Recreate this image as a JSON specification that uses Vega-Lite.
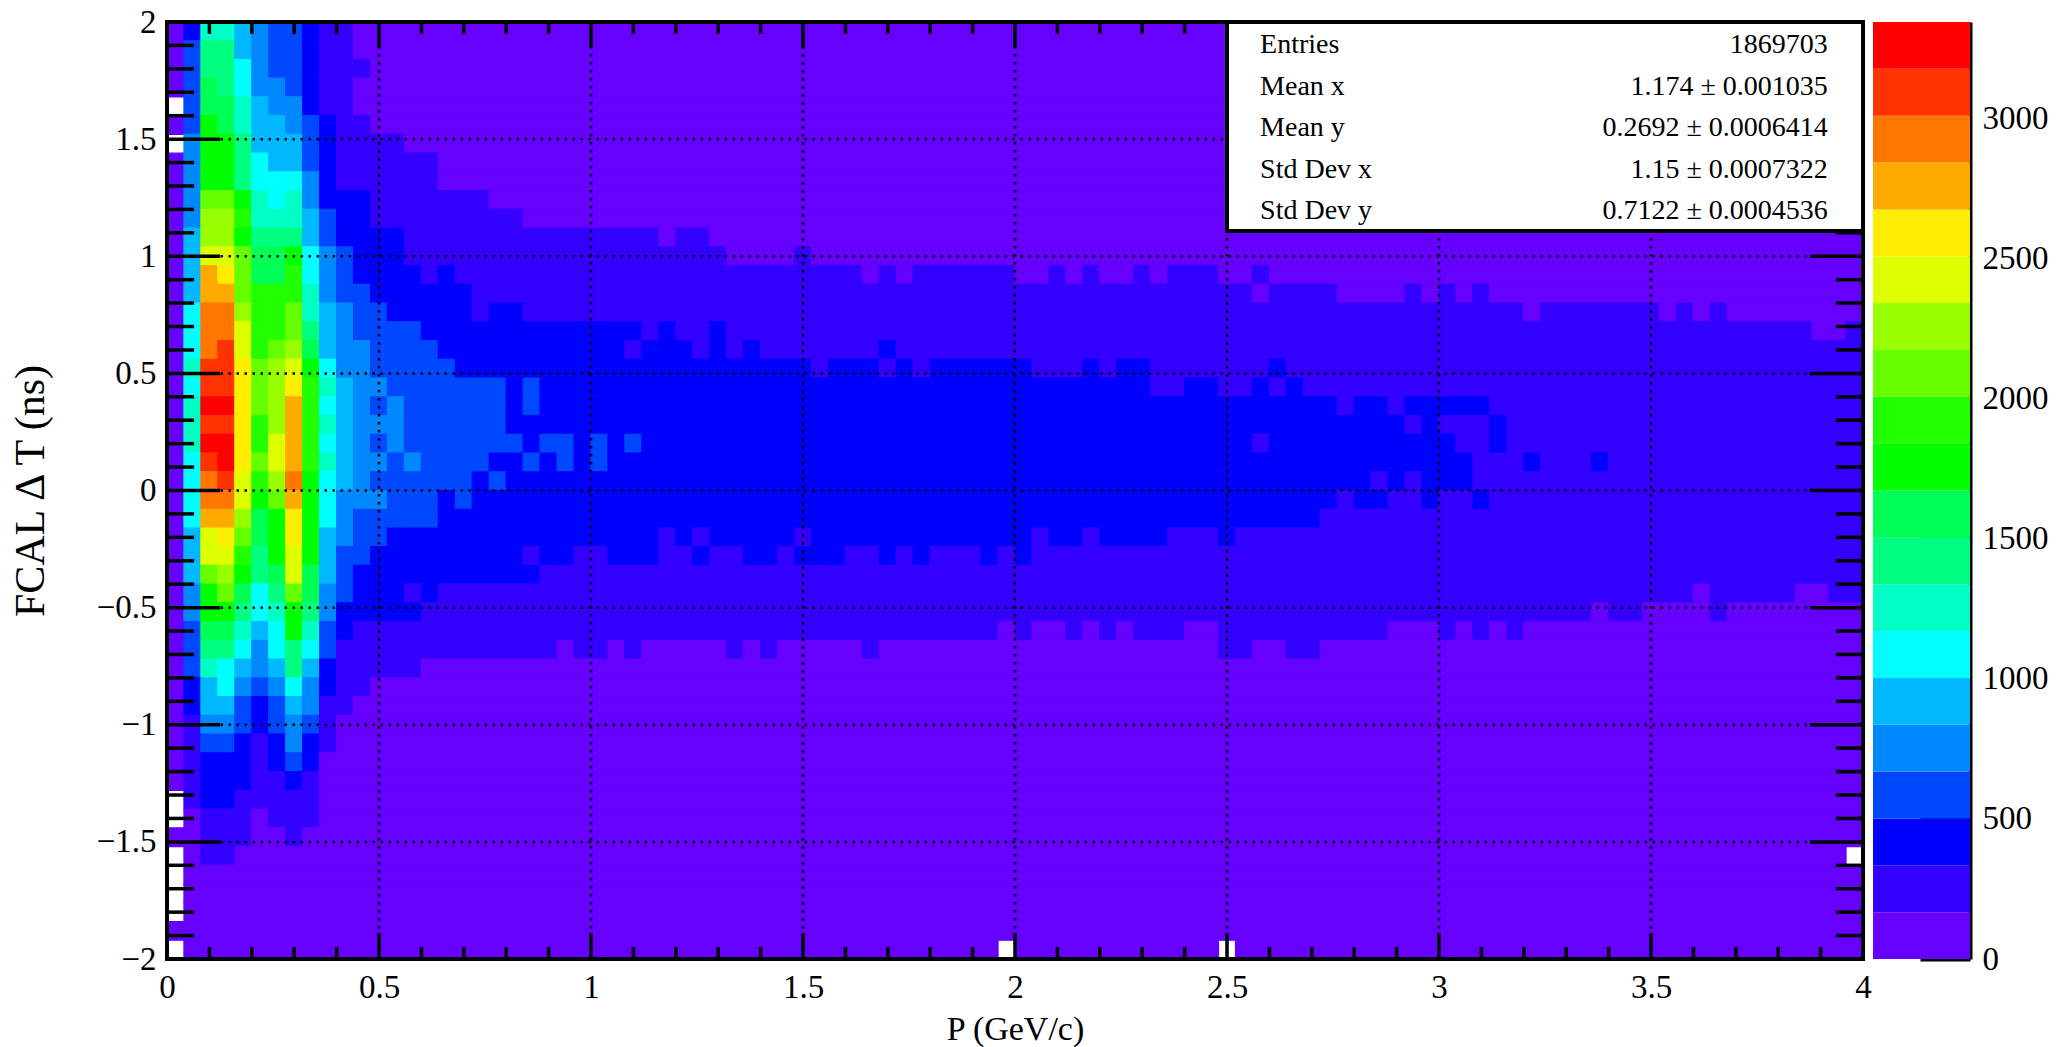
{"$schema":"https://vega.github.io/schema/vega-lite/v6.json","background":"white","padding":{"left":9,"top":6,"right":2,"bottom":2},"spacing":1,"config":{"view":{"stroke":null},"font":"Liberation Serif"},
"datasets":{
"xMinor":[{"v":0.1},{"v":0.2},{"v":0.3},{"v":0.4},{"v":0.6},{"v":0.7},{"v":0.8},{"v":0.9},{"v":1.1},{"v":1.2},{"v":1.3},{"v":1.4},{"v":1.6},{"v":1.7},{"v":1.8},{"v":1.9},{"v":2.1},{"v":2.2},{"v":2.3},{"v":2.4},{"v":2.6},{"v":2.7},{"v":2.8},{"v":2.9},{"v":3.1},{"v":3.2},{"v":3.3},{"v":3.4},{"v":3.6},{"v":3.7},{"v":3.8},{"v":3.9}],
"xMajor":[{"v":0.5},{"v":1},{"v":1.5},{"v":2},{"v":2.5},{"v":3},{"v":3.5}],
"yMinor":[{"v":-1.9},{"v":-1.8},{"v":-1.7},{"v":-1.6},{"v":-1.4},{"v":-1.3},{"v":-1.2},{"v":-1.1},{"v":-0.9},{"v":-0.8},{"v":-0.7},{"v":-0.6},{"v":-0.4},{"v":-0.3},{"v":-0.2},{"v":-0.1},{"v":0.1},{"v":0.2},{"v":0.3},{"v":0.4},{"v":0.6},{"v":0.7},{"v":0.8},{"v":0.9},{"v":1.1},{"v":1.2},{"v":1.3},{"v":1.4},{"v":1.6},{"v":1.7},{"v":1.8},{"v":1.9}],
"yMajor":[{"v":-1.5},{"v":-1},{"v":-0.5},{"v":0},{"v":0.5},{"v":1},{"v":1.5}],
"stats":[{"stat":"Entries","value":"1869703"},{"stat":"Mean x","value":"1.174 ± 0.001035"},{"stat":"Mean y","value":"0.2692 ± 0.0006414"},{"stat":"Std Dev x","value":"1.15 ± 0.0007322"},{"stat":"Std Dev y","value":"0.7122 ± 0.0004536"}]
},
"hconcat":[{"width":1696,"height":937,"resolve":{"scale":{"y":"independent"}},"layer":[
{"layer":[
{"data":{"values":[
{"x":0,"x2":0.04,"y":1.96,"n":80},{"x":0.04,"x2":0.08,"y":1.96,"n":420},{"x":0.08,"x2":0.16,"y":1.96,"n":1250},{"x":0.16,"x2":0.2,"y":1.96,"n":920},{"x":0.2,"x2":0.24,"y":1.96,"n":750},{"x":0.24,"x2":0.32,"y":1.96,"n":590},{"x":0.32,"x2":0.36,"y":1.96,"n":420},{"x":0.36,"x2":0.44,"y":1.96,"n":250},{"x":0.44,"x2":4,"y":1.96,"n":80},
{"x":0,"x2":0.04,"y":1.88,"n":80},{"x":0.04,"x2":0.08,"y":1.88,"n":590},{"x":0.08,"x2":0.16,"y":1.88,"n":1420},{"x":0.16,"x2":0.2,"y":1.88,"n":920},{"x":0.2,"x2":0.24,"y":1.88,"n":750},{"x":0.24,"x2":0.32,"y":1.88,"n":590},{"x":0.32,"x2":0.36,"y":1.88,"n":420},{"x":0.36,"x2":0.44,"y":1.88,"n":250},{"x":0.44,"x2":4,"y":1.88,"n":80},
{"x":0,"x2":0.04,"y":1.8,"n":80},{"x":0.04,"x2":0.08,"y":1.8,"n":590},{"x":0.08,"x2":0.16,"y":1.8,"n":1420},{"x":0.16,"x2":0.2,"y":1.8,"n":1090},{"x":0.2,"x2":0.24,"y":1.8,"n":750},{"x":0.24,"x2":0.32,"y":1.8,"n":590},{"x":0.32,"x2":0.36,"y":1.8,"n":420},{"x":0.36,"x2":0.48,"y":1.8,"n":250},{"x":0.48,"x2":4,"y":1.8,"n":80},
{"x":0,"x2":0.04,"y":1.72,"n":80},{"x":0.04,"x2":0.08,"y":1.72,"n":590},{"x":0.08,"x2":0.12,"y":1.72,"n":1590},{"x":0.12,"x2":0.16,"y":1.72,"n":1420},{"x":0.16,"x2":0.2,"y":1.72,"n":1090},{"x":0.2,"x2":0.28,"y":1.72,"n":750},{"x":0.28,"x2":0.32,"y":1.72,"n":590},{"x":0.32,"x2":0.36,"y":1.72,"n":420},{"x":0.36,"x2":0.44,"y":1.72,"n":250},{"x":0.44,"x2":4,"y":1.72,"n":80},
{"x":0.04,"x2":0.08,"y":1.64,"n":590},{"x":0.08,"x2":0.16,"y":1.64,"n":1590},{"x":0.16,"x2":0.2,"y":1.64,"n":1250},{"x":0.2,"x2":0.24,"y":1.64,"n":920},{"x":0.24,"x2":0.32,"y":1.64,"n":750},{"x":0.32,"x2":0.36,"y":1.64,"n":420},{"x":0.36,"x2":0.44,"y":1.64,"n":250},{"x":0.44,"x2":4,"y":1.64,"n":80},
{"x":0,"x2":0.04,"y":1.56,"n":80},{"x":0.04,"x2":0.08,"y":1.56,"n":590},{"x":0.08,"x2":0.12,"y":1.56,"n":1760},{"x":0.12,"x2":0.16,"y":1.56,"n":1590},{"x":0.16,"x2":0.2,"y":1.56,"n":1250},{"x":0.2,"x2":0.28,"y":1.56,"n":920},{"x":0.28,"x2":0.32,"y":1.56,"n":750},{"x":0.32,"x2":0.36,"y":1.56,"n":590},{"x":0.36,"x2":0.4,"y":1.56,"n":420},{"x":0.4,"x2":0.48,"y":1.56,"n":250},{"x":0.48,"x2":4,"y":1.56,"n":80},
{"x":0.04,"x2":0.08,"y":1.48,"n":750},{"x":0.08,"x2":0.16,"y":1.48,"n":1760},{"x":0.16,"x2":0.2,"y":1.48,"n":1420},{"x":0.2,"x2":0.32,"y":1.48,"n":920},{"x":0.32,"x2":0.36,"y":1.48,"n":590},{"x":0.36,"x2":0.4,"y":1.48,"n":420},{"x":0.4,"x2":0.56,"y":1.48,"n":250},{"x":0.56,"x2":4,"y":1.48,"n":80},
{"x":0,"x2":0.04,"y":1.4,"n":80},{"x":0.04,"x2":0.08,"y":1.4,"n":750},{"x":0.08,"x2":0.16,"y":1.4,"n":1760},{"x":0.16,"x2":0.2,"y":1.4,"n":1420},{"x":0.2,"x2":0.24,"y":1.4,"n":1090},{"x":0.24,"x2":0.32,"y":1.4,"n":920},{"x":0.32,"x2":0.36,"y":1.4,"n":590},{"x":0.36,"x2":0.4,"y":1.4,"n":420},{"x":0.4,"x2":0.64,"y":1.4,"n":250},{"x":0.64,"x2":4,"y":1.4,"n":80},
{"x":0,"x2":0.04,"y":1.32,"n":80},{"x":0.04,"x2":0.08,"y":1.32,"n":750},{"x":0.08,"x2":0.16,"y":1.32,"n":1760},{"x":0.16,"x2":0.2,"y":1.32,"n":1420},{"x":0.2,"x2":0.32,"y":1.32,"n":1090},{"x":0.32,"x2":0.36,"y":1.32,"n":750},{"x":0.36,"x2":0.4,"y":1.32,"n":420},{"x":0.4,"x2":0.64,"y":1.32,"n":250},{"x":0.64,"x2":4,"y":1.32,"n":80},
{"x":0,"x2":0.04,"y":1.24,"n":80},{"x":0.04,"x2":0.08,"y":1.24,"n":750},{"x":0.08,"x2":0.16,"y":1.24,"n":2090},{"x":0.16,"x2":0.2,"y":1.24,"n":1760},{"x":0.2,"x2":0.24,"y":1.24,"n":1250},{"x":0.24,"x2":0.28,"y":1.24,"n":1090},{"x":0.28,"x2":0.32,"y":1.24,"n":1250},{"x":0.32,"x2":0.36,"y":1.24,"n":750},{"x":0.36,"x2":0.48,"y":1.24,"n":420},{"x":0.48,"x2":0.76,"y":1.24,"n":250},{"x":0.76,"x2":4,"y":1.24,"n":80},
{"x":0,"x2":0.04,"y":1.16,"n":80},{"x":0.04,"x2":0.08,"y":1.16,"n":750},{"x":0.08,"x2":0.16,"y":1.16,"n":2260},{"x":0.16,"x2":0.2,"y":1.16,"n":1920},{"x":0.2,"x2":0.32,"y":1.16,"n":1250},{"x":0.32,"x2":0.36,"y":1.16,"n":920},{"x":0.36,"x2":0.4,"y":1.16,"n":590},{"x":0.4,"x2":0.48,"y":1.16,"n":420},{"x":0.48,"x2":0.84,"y":1.16,"n":250},{"x":0.84,"x2":4,"y":1.16,"n":80},
{"x":0,"x2":0.04,"y":1.08,"n":80},{"x":0.04,"x2":0.08,"y":1.08,"n":920},{"x":0.08,"x2":0.16,"y":1.08,"n":2260},{"x":0.16,"x2":0.2,"y":1.08,"n":1760},{"x":0.2,"x2":0.32,"y":1.08,"n":1420},{"x":0.32,"x2":0.36,"y":1.08,"n":920},{"x":0.36,"x2":0.4,"y":1.08,"n":590},{"x":0.4,"x2":0.56,"y":1.08,"n":420},{"x":0.56,"x2":1.16,"y":1.08,"n":250},{"x":1.16,"x2":1.2,"y":1.08,"n":80},{"x":1.2,"x2":1.28,"y":1.08,"n":250},{"x":1.28,"x2":4,"y":1.08,"n":80},
{"x":0,"x2":0.04,"y":1,"n":80},{"x":0.04,"x2":0.08,"y":1,"n":920},{"x":0.08,"x2":0.16,"y":1,"n":2430},{"x":0.16,"x2":0.2,"y":1,"n":2090},{"x":0.2,"x2":0.28,"y":1,"n":1590},{"x":0.28,"x2":0.32,"y":1,"n":1760},{"x":0.32,"x2":0.36,"y":1,"n":1090},{"x":0.36,"x2":0.4,"y":1,"n":750},{"x":0.4,"x2":0.44,"y":1,"n":590},{"x":0.44,"x2":0.56,"y":1,"n":420},{"x":0.56,"x2":1.32,"y":1,"n":250},{"x":1.32,"x2":1.48,"y":1,"n":80},{"x":1.48,"x2":1.52,"y":1,"n":250},{"x":1.52,"x2":4,"y":1,"n":80},
{"x":0,"x2":0.04,"y":0.92,"n":80},{"x":0.04,"x2":0.08,"y":0.92,"n":920},{"x":0.08,"x2":0.12,"y":0.92,"n":2760},{"x":0.12,"x2":0.16,"y":0.92,"n":2590},{"x":0.16,"x2":0.2,"y":0.92,"n":2090},{"x":0.2,"x2":0.28,"y":0.92,"n":1590},{"x":0.28,"x2":0.32,"y":0.92,"n":1920},{"x":0.32,"x2":0.36,"y":0.92,"n":1090},{"x":0.36,"x2":0.4,"y":0.92,"n":750},{"x":0.4,"x2":0.44,"y":0.92,"n":590},{"x":0.44,"x2":0.6,"y":0.92,"n":420},{"x":0.6,"x2":0.64,"y":0.92,"n":250},{"x":0.64,"x2":0.68,"y":0.92,"n":420},{"x":0.68,"x2":1.64,"y":0.92,"n":250},{"x":1.64,"x2":1.68,"y":0.92,"n":80},{"x":1.68,"x2":1.72,"y":0.92,"n":250},{"x":1.72,"x2":1.76,"y":0.92,"n":80},{"x":1.76,"x2":2,"y":0.92,"n":250},{"x":2,"x2":2.08,"y":0.92,"n":80},{"x":2.08,"x2":2.12,"y":0.92,"n":250},{"x":2.12,"x2":2.16,"y":0.92,"n":80},{"x":2.16,"x2":2.2,"y":0.92,"n":250},{"x":2.2,"x2":2.28,"y":0.92,"n":80},{"x":2.28,"x2":2.32,"y":0.92,"n":250},{"x":2.32,"x2":2.36,"y":0.92,"n":80},{"x":2.36,"x2":2.48,"y":0.92,"n":250},{"x":2.48,"x2":2.56,"y":0.92,"n":80},{"x":2.56,"x2":2.6,"y":0.92,"n":250},{"x":2.6,"x2":4,"y":0.92,"n":80},
{"x":0,"x2":0.04,"y":0.84,"n":80},{"x":0.04,"x2":0.08,"y":0.84,"n":920},{"x":0.08,"x2":0.16,"y":0.84,"n":2760},{"x":0.16,"x2":0.2,"y":0.84,"n":2090},{"x":0.2,"x2":0.32,"y":0.84,"n":1920},{"x":0.32,"x2":0.36,"y":0.84,"n":1250},{"x":0.36,"x2":0.4,"y":0.84,"n":750},{"x":0.4,"x2":0.48,"y":0.84,"n":590},{"x":0.48,"x2":0.72,"y":0.84,"n":420},{"x":0.72,"x2":2.56,"y":0.84,"n":250},{"x":2.56,"x2":2.6,"y":0.84,"n":80},{"x":2.6,"x2":2.76,"y":0.84,"n":250},{"x":2.76,"x2":2.92,"y":0.84,"n":80},{"x":2.92,"x2":2.96,"y":0.84,"n":250},{"x":2.96,"x2":3,"y":0.84,"n":80},{"x":3,"x2":3.04,"y":0.84,"n":250},{"x":3.04,"x2":3.08,"y":0.84,"n":80},{"x":3.08,"x2":3.12,"y":0.84,"n":250},{"x":3.12,"x2":4,"y":0.84,"n":80},
{"x":0,"x2":0.04,"y":0.76,"n":80},{"x":0.04,"x2":0.08,"y":0.76,"n":1090},{"x":0.08,"x2":0.16,"y":0.76,"n":2930},{"x":0.16,"x2":0.2,"y":0.76,"n":2260},{"x":0.2,"x2":0.28,"y":0.76,"n":1920},{"x":0.28,"x2":0.32,"y":0.76,"n":2090},{"x":0.32,"x2":0.36,"y":0.76,"n":1250},{"x":0.36,"x2":0.4,"y":0.76,"n":920},{"x":0.4,"x2":0.44,"y":0.76,"n":750},{"x":0.44,"x2":0.52,"y":0.76,"n":590},{"x":0.52,"x2":0.72,"y":0.76,"n":420},{"x":0.72,"x2":0.76,"y":0.76,"n":250},{"x":0.76,"x2":0.84,"y":0.76,"n":420},{"x":0.84,"x2":3.2,"y":0.76,"n":250},{"x":3.2,"x2":3.24,"y":0.76,"n":80},{"x":3.24,"x2":3.52,"y":0.76,"n":250},{"x":3.52,"x2":3.56,"y":0.76,"n":80},{"x":3.56,"x2":3.6,"y":0.76,"n":250},{"x":3.6,"x2":3.64,"y":0.76,"n":80},{"x":3.64,"x2":3.68,"y":0.76,"n":250},{"x":3.68,"x2":4,"y":0.76,"n":80},
{"x":0,"x2":0.04,"y":0.68,"n":80},{"x":0.04,"x2":0.08,"y":0.68,"n":1090},{"x":0.08,"x2":0.16,"y":0.68,"n":2930},{"x":0.16,"x2":0.2,"y":0.68,"n":2430},{"x":0.2,"x2":0.28,"y":0.68,"n":1920},{"x":0.28,"x2":0.32,"y":0.68,"n":2090},{"x":0.32,"x2":0.36,"y":0.68,"n":1420},{"x":0.36,"x2":0.4,"y":0.68,"n":920},{"x":0.4,"x2":0.44,"y":0.68,"n":750},{"x":0.44,"x2":0.6,"y":0.68,"n":590},{"x":0.6,"x2":1.12,"y":0.68,"n":420},{"x":1.12,"x2":1.16,"y":0.68,"n":250},{"x":1.16,"x2":1.2,"y":0.68,"n":420},{"x":1.2,"x2":1.28,"y":0.68,"n":250},{"x":1.28,"x2":1.32,"y":0.68,"n":420},{"x":1.32,"x2":3.88,"y":0.68,"n":250},{"x":3.88,"x2":3.96,"y":0.68,"n":80},{"x":3.96,"x2":4,"y":0.68,"n":250},
{"x":0,"x2":0.04,"y":0.6,"n":80},{"x":0.04,"x2":0.08,"y":0.6,"n":1090},{"x":0.08,"x2":0.12,"y":0.6,"n":2930},{"x":0.12,"x2":0.16,"y":0.6,"n":3100},{"x":0.16,"x2":0.2,"y":0.6,"n":2430},{"x":0.2,"x2":0.24,"y":0.6,"n":1920},{"x":0.24,"x2":0.28,"y":0.6,"n":2090},{"x":0.28,"x2":0.32,"y":0.6,"n":2260},{"x":0.32,"x2":0.36,"y":0.6,"n":1590},{"x":0.36,"x2":0.4,"y":0.6,"n":920},{"x":0.4,"x2":0.48,"y":0.6,"n":750},{"x":0.48,"x2":0.64,"y":0.6,"n":590},{"x":0.64,"x2":1.08,"y":0.6,"n":420},{"x":1.08,"x2":1.12,"y":0.6,"n":250},{"x":1.12,"x2":1.24,"y":0.6,"n":420},{"x":1.24,"x2":1.28,"y":0.6,"n":250},{"x":1.28,"x2":1.32,"y":0.6,"n":420},{"x":1.32,"x2":1.36,"y":0.6,"n":250},{"x":1.36,"x2":1.4,"y":0.6,"n":420},{"x":1.4,"x2":1.68,"y":0.6,"n":250},{"x":1.68,"x2":1.72,"y":0.6,"n":420},{"x":1.72,"x2":4,"y":0.6,"n":250},
{"x":0,"x2":0.04,"y":0.52,"n":80},{"x":0.04,"x2":0.08,"y":0.52,"n":1250},{"x":0.08,"x2":0.16,"y":0.52,"n":3100},{"x":0.16,"x2":0.2,"y":0.52,"n":2590},{"x":0.2,"x2":0.24,"y":0.52,"n":2090},{"x":0.24,"x2":0.28,"y":0.52,"n":2260},{"x":0.28,"x2":0.32,"y":0.52,"n":2430},{"x":0.32,"x2":0.36,"y":0.52,"n":1760},{"x":0.36,"x2":0.4,"y":0.52,"n":1090},{"x":0.4,"x2":0.48,"y":0.52,"n":750},{"x":0.48,"x2":0.68,"y":0.52,"n":590},{"x":0.68,"x2":1.52,"y":0.52,"n":420},{"x":1.52,"x2":1.56,"y":0.52,"n":250},{"x":1.56,"x2":1.68,"y":0.52,"n":420},{"x":1.68,"x2":1.72,"y":0.52,"n":250},{"x":1.72,"x2":1.76,"y":0.52,"n":420},{"x":1.76,"x2":1.8,"y":0.52,"n":250},{"x":1.8,"x2":2.04,"y":0.52,"n":420},{"x":2.04,"x2":2.16,"y":0.52,"n":250},{"x":2.16,"x2":2.2,"y":0.52,"n":420},{"x":2.2,"x2":2.24,"y":0.52,"n":250},{"x":2.24,"x2":2.32,"y":0.52,"n":420},{"x":2.32,"x2":2.6,"y":0.52,"n":250},{"x":2.6,"x2":2.64,"y":0.52,"n":420},{"x":2.64,"x2":4,"y":0.52,"n":250},
{"x":0,"x2":0.04,"y":0.44,"n":80},{"x":0.04,"x2":0.08,"y":0.44,"n":1090},{"x":0.08,"x2":0.16,"y":0.44,"n":3100},{"x":0.16,"x2":0.2,"y":0.44,"n":2590},{"x":0.2,"x2":0.24,"y":0.44,"n":2090},{"x":0.24,"x2":0.28,"y":0.44,"n":2260},{"x":0.28,"x2":0.32,"y":0.44,"n":2590},{"x":0.32,"x2":0.36,"y":0.44,"n":1920},{"x":0.36,"x2":0.4,"y":0.44,"n":1250},{"x":0.4,"x2":0.44,"y":0.44,"n":920},{"x":0.44,"x2":0.52,"y":0.44,"n":750},{"x":0.52,"x2":0.8,"y":0.44,"n":590},{"x":0.8,"x2":0.84,"y":0.44,"n":420},{"x":0.84,"x2":0.88,"y":0.44,"n":590},{"x":0.88,"x2":2.32,"y":0.44,"n":420},{"x":2.32,"x2":2.4,"y":0.44,"n":250},{"x":2.4,"x2":2.48,"y":0.44,"n":420},{"x":2.48,"x2":2.56,"y":0.44,"n":250},{"x":2.56,"x2":2.6,"y":0.44,"n":420},{"x":2.6,"x2":2.64,"y":0.44,"n":250},{"x":2.64,"x2":2.68,"y":0.44,"n":420},{"x":2.68,"x2":4,"y":0.44,"n":250},
{"x":0,"x2":0.04,"y":0.36,"n":80},{"x":0.04,"x2":0.08,"y":0.36,"n":1250},{"x":0.08,"x2":0.16,"y":0.36,"n":3260},{"x":0.16,"x2":0.2,"y":0.36,"n":2590},{"x":0.2,"x2":0.24,"y":0.36,"n":2090},{"x":0.24,"x2":0.28,"y":0.36,"n":2260},{"x":0.28,"x2":0.32,"y":0.36,"n":2760},{"x":0.32,"x2":0.36,"y":0.36,"n":1920},{"x":0.36,"x2":0.4,"y":0.36,"n":1090},{"x":0.4,"x2":0.44,"y":0.36,"n":920},{"x":0.44,"x2":0.48,"y":0.36,"n":750},{"x":0.48,"x2":0.52,"y":0.36,"n":590},{"x":0.52,"x2":0.56,"y":0.36,"n":750},{"x":0.56,"x2":0.8,"y":0.36,"n":590},{"x":0.8,"x2":0.84,"y":0.36,"n":420},{"x":0.84,"x2":0.88,"y":0.36,"n":590},{"x":0.88,"x2":2.76,"y":0.36,"n":420},{"x":2.76,"x2":2.8,"y":0.36,"n":250},{"x":2.8,"x2":2.88,"y":0.36,"n":420},{"x":2.88,"x2":2.92,"y":0.36,"n":250},{"x":2.92,"x2":3.12,"y":0.36,"n":420},{"x":3.12,"x2":4,"y":0.36,"n":250},
{"x":0,"x2":0.04,"y":0.28,"n":80},{"x":0.04,"x2":0.08,"y":0.28,"n":1250},{"x":0.08,"x2":0.16,"y":0.28,"n":3100},{"x":0.16,"x2":0.2,"y":0.28,"n":2590},{"x":0.2,"x2":0.24,"y":0.28,"n":1920},{"x":0.24,"x2":0.28,"y":0.28,"n":2260},{"x":0.28,"x2":0.32,"y":0.28,"n":2760},{"x":0.32,"x2":0.36,"y":0.28,"n":1920},{"x":0.36,"x2":0.4,"y":0.28,"n":1250},{"x":0.4,"x2":0.44,"y":0.28,"n":920},{"x":0.44,"x2":0.56,"y":0.28,"n":750},{"x":0.56,"x2":0.8,"y":0.28,"n":590},{"x":0.8,"x2":2.92,"y":0.28,"n":420},{"x":2.92,"x2":2.96,"y":0.28,"n":250},{"x":2.96,"x2":3,"y":0.28,"n":420},{"x":3,"x2":3.12,"y":0.28,"n":250},{"x":3.12,"x2":3.16,"y":0.28,"n":420},{"x":3.16,"x2":4,"y":0.28,"n":250},
{"x":0,"x2":0.04,"y":0.2,"n":80},{"x":0.04,"x2":0.08,"y":0.2,"n":1250},{"x":0.08,"x2":0.16,"y":0.2,"n":3260},{"x":0.16,"x2":0.2,"y":0.2,"n":2590},{"x":0.2,"x2":0.24,"y":0.2,"n":1920},{"x":0.24,"x2":0.28,"y":0.2,"n":2430},{"x":0.28,"x2":0.32,"y":0.2,"n":2760},{"x":0.32,"x2":0.36,"y":0.2,"n":1920},{"x":0.36,"x2":0.4,"y":0.2,"n":1090},{"x":0.4,"x2":0.44,"y":0.2,"n":920},{"x":0.44,"x2":0.48,"y":0.2,"n":750},{"x":0.48,"x2":0.52,"y":0.2,"n":590},{"x":0.52,"x2":0.56,"y":0.2,"n":750},{"x":0.56,"x2":0.84,"y":0.2,"n":590},{"x":0.84,"x2":0.88,"y":0.2,"n":420},{"x":0.88,"x2":0.96,"y":0.2,"n":590},{"x":0.96,"x2":1,"y":0.2,"n":420},{"x":1,"x2":1.04,"y":0.2,"n":590},{"x":1.04,"x2":1.08,"y":0.2,"n":420},{"x":1.08,"x2":1.12,"y":0.2,"n":590},{"x":1.12,"x2":2.56,"y":0.2,"n":420},{"x":2.56,"x2":2.6,"y":0.2,"n":250},{"x":2.6,"x2":3.04,"y":0.2,"n":420},{"x":3.04,"x2":3.12,"y":0.2,"n":250},{"x":3.12,"x2":3.16,"y":0.2,"n":420},{"x":3.16,"x2":4,"y":0.2,"n":250},
{"x":0,"x2":0.04,"y":0.12,"n":80},{"x":0.04,"x2":0.08,"y":0.12,"n":1090},{"x":0.08,"x2":0.12,"y":0.12,"n":3100},{"x":0.12,"x2":0.16,"y":0.12,"n":3260},{"x":0.16,"x2":0.2,"y":0.12,"n":2590},{"x":0.2,"x2":0.24,"y":0.12,"n":2090},{"x":0.24,"x2":0.28,"y":0.12,"n":2430},{"x":0.28,"x2":0.32,"y":0.12,"n":2760},{"x":0.32,"x2":0.36,"y":0.12,"n":1920},{"x":0.36,"x2":0.4,"y":0.12,"n":1250},{"x":0.4,"x2":0.44,"y":0.12,"n":920},{"x":0.44,"x2":0.52,"y":0.12,"n":750},{"x":0.52,"x2":0.56,"y":0.12,"n":590},{"x":0.56,"x2":0.6,"y":0.12,"n":750},{"x":0.6,"x2":0.76,"y":0.12,"n":590},{"x":0.76,"x2":0.84,"y":0.12,"n":420},{"x":0.84,"x2":0.88,"y":0.12,"n":590},{"x":0.88,"x2":0.92,"y":0.12,"n":420},{"x":0.92,"x2":0.96,"y":0.12,"n":590},{"x":0.96,"x2":1,"y":0.12,"n":420},{"x":1,"x2":1.04,"y":0.12,"n":590},{"x":1.04,"x2":3.08,"y":0.12,"n":420},{"x":3.08,"x2":3.2,"y":0.12,"n":250},{"x":3.2,"x2":3.24,"y":0.12,"n":420},{"x":3.24,"x2":3.36,"y":0.12,"n":250},{"x":3.36,"x2":3.4,"y":0.12,"n":420},{"x":3.4,"x2":4,"y":0.12,"n":250},
{"x":0,"x2":0.04,"y":0.04,"n":80},{"x":0.04,"x2":0.08,"y":0.04,"n":1090},{"x":0.08,"x2":0.12,"y":0.04,"n":2930},{"x":0.12,"x2":0.16,"y":0.04,"n":3100},{"x":0.16,"x2":0.2,"y":0.04,"n":2430},{"x":0.2,"x2":0.24,"y":0.04,"n":1920},{"x":0.24,"x2":0.28,"y":0.04,"n":2260},{"x":0.28,"x2":0.32,"y":0.04,"n":2930},{"x":0.32,"x2":0.36,"y":0.04,"n":1760},{"x":0.36,"x2":0.4,"y":0.04,"n":1090},{"x":0.4,"x2":0.44,"y":0.04,"n":920},{"x":0.44,"x2":0.48,"y":0.04,"n":750},{"x":0.48,"x2":0.72,"y":0.04,"n":590},{"x":0.72,"x2":0.76,"y":0.04,"n":420},{"x":0.76,"x2":0.8,"y":0.04,"n":590},{"x":0.8,"x2":2.84,"y":0.04,"n":420},{"x":2.84,"x2":2.88,"y":0.04,"n":250},{"x":2.88,"x2":2.92,"y":0.04,"n":420},{"x":2.92,"x2":2.96,"y":0.04,"n":250},{"x":2.96,"x2":3.08,"y":0.04,"n":420},{"x":3.08,"x2":4,"y":0.04,"n":250},
{"x":0,"x2":0.04,"y":-0.04,"n":80},{"x":0.04,"x2":0.08,"y":-0.04,"n":1090},{"x":0.08,"x2":0.16,"y":-0.04,"n":2930},{"x":0.16,"x2":0.2,"y":-0.04,"n":2430},{"x":0.2,"x2":0.24,"y":-0.04,"n":1760},{"x":0.24,"x2":0.28,"y":-0.04,"n":2090},{"x":0.28,"x2":0.32,"y":-0.04,"n":2760},{"x":0.32,"x2":0.36,"y":-0.04,"n":1760},{"x":0.36,"x2":0.4,"y":-0.04,"n":1090},{"x":0.4,"x2":0.52,"y":-0.04,"n":750},{"x":0.52,"x2":0.64,"y":-0.04,"n":590},{"x":0.64,"x2":0.68,"y":-0.04,"n":420},{"x":0.68,"x2":0.72,"y":-0.04,"n":590},{"x":0.72,"x2":2.76,"y":-0.04,"n":420},{"x":2.76,"x2":2.8,"y":-0.04,"n":250},{"x":2.8,"x2":2.88,"y":-0.04,"n":420},{"x":2.88,"x2":2.96,"y":-0.04,"n":250},{"x":2.96,"x2":3,"y":-0.04,"n":420},{"x":3,"x2":3.08,"y":-0.04,"n":250},{"x":3.08,"x2":3.12,"y":-0.04,"n":420},{"x":3.12,"x2":4,"y":-0.04,"n":250},
{"x":0,"x2":0.04,"y":-0.12,"n":80},{"x":0.04,"x2":0.08,"y":-0.12,"n":1090},{"x":0.08,"x2":0.16,"y":-0.12,"n":2760},{"x":0.16,"x2":0.2,"y":-0.12,"n":2260},{"x":0.2,"x2":0.24,"y":-0.12,"n":1590},{"x":0.24,"x2":0.28,"y":-0.12,"n":1760},{"x":0.28,"x2":0.32,"y":-0.12,"n":2590},{"x":0.32,"x2":0.36,"y":-0.12,"n":1760},{"x":0.36,"x2":0.4,"y":-0.12,"n":1090},{"x":0.4,"x2":0.44,"y":-0.12,"n":750},{"x":0.44,"x2":0.64,"y":-0.12,"n":590},{"x":0.64,"x2":2.72,"y":-0.12,"n":420},{"x":2.72,"x2":4,"y":-0.12,"n":250},
{"x":0,"x2":0.04,"y":-0.2,"n":80},{"x":0.04,"x2":0.08,"y":-0.2,"n":920},{"x":0.08,"x2":0.12,"y":-0.2,"n":2430},{"x":0.12,"x2":0.16,"y":-0.2,"n":2590},{"x":0.16,"x2":0.2,"y":-0.2,"n":2090},{"x":0.2,"x2":0.24,"y":-0.2,"n":1590},{"x":0.24,"x2":0.28,"y":-0.2,"n":1760},{"x":0.28,"x2":0.32,"y":-0.2,"n":2590},{"x":0.32,"x2":0.36,"y":-0.2,"n":1760},{"x":0.36,"x2":0.4,"y":-0.2,"n":920},{"x":0.4,"x2":0.44,"y":-0.2,"n":750},{"x":0.44,"x2":0.52,"y":-0.2,"n":590},{"x":0.52,"x2":1.16,"y":-0.2,"n":420},{"x":1.16,"x2":1.2,"y":-0.2,"n":250},{"x":1.2,"x2":1.24,"y":-0.2,"n":420},{"x":1.24,"x2":1.28,"y":-0.2,"n":250},{"x":1.28,"x2":1.48,"y":-0.2,"n":420},{"x":1.48,"x2":1.52,"y":-0.2,"n":250},{"x":1.52,"x2":2.04,"y":-0.2,"n":420},{"x":2.04,"x2":2.08,"y":-0.2,"n":250},{"x":2.08,"x2":2.16,"y":-0.2,"n":420},{"x":2.16,"x2":2.2,"y":-0.2,"n":250},{"x":2.2,"x2":2.36,"y":-0.2,"n":420},{"x":2.36,"x2":2.48,"y":-0.2,"n":250},{"x":2.48,"x2":2.52,"y":-0.2,"n":420},{"x":2.52,"x2":4,"y":-0.2,"n":250},
{"x":0,"x2":0.04,"y":-0.28,"n":80},{"x":0.04,"x2":0.08,"y":-0.28,"n":920},{"x":0.08,"x2":0.16,"y":-0.28,"n":2430},{"x":0.16,"x2":0.2,"y":-0.28,"n":1920},{"x":0.2,"x2":0.24,"y":-0.28,"n":1420},{"x":0.24,"x2":0.28,"y":-0.28,"n":1760},{"x":0.28,"x2":0.32,"y":-0.28,"n":2430},{"x":0.32,"x2":0.36,"y":-0.28,"n":1760},{"x":0.36,"x2":0.4,"y":-0.28,"n":920},{"x":0.4,"x2":0.48,"y":-0.28,"n":590},{"x":0.48,"x2":0.84,"y":-0.28,"n":420},{"x":0.84,"x2":0.88,"y":-0.28,"n":250},{"x":0.88,"x2":0.96,"y":-0.28,"n":420},{"x":0.96,"x2":1.04,"y":-0.28,"n":250},{"x":1.04,"x2":1.16,"y":-0.28,"n":420},{"x":1.16,"x2":1.24,"y":-0.28,"n":250},{"x":1.24,"x2":1.28,"y":-0.28,"n":420},{"x":1.28,"x2":1.36,"y":-0.28,"n":250},{"x":1.36,"x2":1.44,"y":-0.28,"n":420},{"x":1.44,"x2":1.48,"y":-0.28,"n":250},{"x":1.48,"x2":1.6,"y":-0.28,"n":420},{"x":1.6,"x2":1.68,"y":-0.28,"n":250},{"x":1.68,"x2":1.72,"y":-0.28,"n":420},{"x":1.72,"x2":1.76,"y":-0.28,"n":250},{"x":1.76,"x2":1.8,"y":-0.28,"n":420},{"x":1.8,"x2":1.92,"y":-0.28,"n":250},{"x":1.92,"x2":1.96,"y":-0.28,"n":420},{"x":1.96,"x2":2,"y":-0.28,"n":250},{"x":2,"x2":2.04,"y":-0.28,"n":420},{"x":2.04,"x2":4,"y":-0.28,"n":250},
{"x":0,"x2":0.04,"y":-0.36,"n":80},{"x":0.04,"x2":0.08,"y":-0.36,"n":920},{"x":0.08,"x2":0.12,"y":-0.36,"n":2090},{"x":0.12,"x2":0.16,"y":-0.36,"n":2260},{"x":0.16,"x2":0.2,"y":-0.36,"n":1760},{"x":0.2,"x2":0.24,"y":-0.36,"n":1420},{"x":0.24,"x2":0.28,"y":-0.36,"n":1590},{"x":0.28,"x2":0.32,"y":-0.36,"n":2430},{"x":0.32,"x2":0.36,"y":-0.36,"n":1590},{"x":0.36,"x2":0.4,"y":-0.36,"n":920},{"x":0.4,"x2":0.44,"y":-0.36,"n":590},{"x":0.44,"x2":0.88,"y":-0.36,"n":420},{"x":0.88,"x2":4,"y":-0.36,"n":250},
{"x":0,"x2":0.04,"y":-0.44,"n":80},{"x":0.04,"x2":0.08,"y":-0.44,"n":750},{"x":0.08,"x2":0.12,"y":-0.44,"n":1760},{"x":0.12,"x2":0.16,"y":-0.44,"n":2090},{"x":0.16,"x2":0.2,"y":-0.44,"n":1590},{"x":0.2,"x2":0.24,"y":-0.44,"n":1090},{"x":0.24,"x2":0.28,"y":-0.44,"n":1420},{"x":0.28,"x2":0.32,"y":-0.44,"n":2090},{"x":0.32,"x2":0.36,"y":-0.44,"n":1590},{"x":0.36,"x2":0.4,"y":-0.44,"n":750},{"x":0.4,"x2":0.44,"y":-0.44,"n":590},{"x":0.44,"x2":0.56,"y":-0.44,"n":420},{"x":0.56,"x2":0.6,"y":-0.44,"n":250},{"x":0.6,"x2":0.64,"y":-0.44,"n":420},{"x":0.64,"x2":3.6,"y":-0.44,"n":250},{"x":3.6,"x2":3.64,"y":-0.44,"n":80},{"x":3.64,"x2":3.84,"y":-0.44,"n":250},{"x":3.84,"x2":3.92,"y":-0.44,"n":80},{"x":3.92,"x2":4,"y":-0.44,"n":250},
{"x":0,"x2":0.04,"y":-0.52,"n":80},{"x":0.04,"x2":0.08,"y":-0.52,"n":750},{"x":0.08,"x2":0.16,"y":-0.52,"n":1760},{"x":0.16,"x2":0.2,"y":-0.52,"n":1420},{"x":0.2,"x2":0.24,"y":-0.52,"n":1090},{"x":0.24,"x2":0.28,"y":-0.52,"n":1250},{"x":0.28,"x2":0.32,"y":-0.52,"n":1760},{"x":0.32,"x2":0.36,"y":-0.52,"n":1420},{"x":0.36,"x2":0.4,"y":-0.52,"n":750},{"x":0.4,"x2":0.6,"y":-0.52,"n":420},{"x":0.6,"x2":3.36,"y":-0.52,"n":250},{"x":3.36,"x2":3.4,"y":-0.52,"n":80},{"x":3.4,"x2":3.48,"y":-0.52,"n":250},{"x":3.48,"x2":3.64,"y":-0.52,"n":80},{"x":3.64,"x2":3.68,"y":-0.52,"n":250},{"x":3.68,"x2":4,"y":-0.52,"n":80},
{"x":0,"x2":0.04,"y":-0.6,"n":80},{"x":0.04,"x2":0.08,"y":-0.6,"n":590},{"x":0.08,"x2":0.16,"y":-0.6,"n":1590},{"x":0.16,"x2":0.2,"y":-0.6,"n":1250},{"x":0.2,"x2":0.24,"y":-0.6,"n":920},{"x":0.24,"x2":0.28,"y":-0.6,"n":1090},{"x":0.28,"x2":0.32,"y":-0.6,"n":1760},{"x":0.32,"x2":0.36,"y":-0.6,"n":1250},{"x":0.36,"x2":0.4,"y":-0.6,"n":590},{"x":0.4,"x2":0.44,"y":-0.6,"n":420},{"x":0.44,"x2":1.96,"y":-0.6,"n":250},{"x":1.96,"x2":2,"y":-0.6,"n":80},{"x":2,"x2":2.04,"y":-0.6,"n":250},{"x":2.04,"x2":2.12,"y":-0.6,"n":80},{"x":2.12,"x2":2.16,"y":-0.6,"n":250},{"x":2.16,"x2":2.2,"y":-0.6,"n":80},{"x":2.2,"x2":2.24,"y":-0.6,"n":250},{"x":2.24,"x2":2.28,"y":-0.6,"n":80},{"x":2.28,"x2":2.4,"y":-0.6,"n":250},{"x":2.4,"x2":2.48,"y":-0.6,"n":80},{"x":2.48,"x2":2.88,"y":-0.6,"n":250},{"x":2.88,"x2":3,"y":-0.6,"n":80},{"x":3,"x2":3.04,"y":-0.6,"n":250},{"x":3.04,"x2":3.08,"y":-0.6,"n":80},{"x":3.08,"x2":3.12,"y":-0.6,"n":250},{"x":3.12,"x2":3.16,"y":-0.6,"n":80},{"x":3.16,"x2":3.2,"y":-0.6,"n":250},{"x":3.2,"x2":4,"y":-0.6,"n":80},
{"x":0,"x2":0.04,"y":-0.68,"n":80},{"x":0.04,"x2":0.08,"y":-0.68,"n":590},{"x":0.08,"x2":0.16,"y":-0.68,"n":1420},{"x":0.16,"x2":0.2,"y":-0.68,"n":1090},{"x":0.2,"x2":0.24,"y":-0.68,"n":750},{"x":0.24,"x2":0.28,"y":-0.68,"n":1090},{"x":0.28,"x2":0.32,"y":-0.68,"n":1420},{"x":0.32,"x2":0.36,"y":-0.68,"n":1090},{"x":0.36,"x2":0.4,"y":-0.68,"n":590},{"x":0.4,"x2":0.92,"y":-0.68,"n":250},{"x":0.92,"x2":0.96,"y":-0.68,"n":80},{"x":0.96,"x2":1.04,"y":-0.68,"n":250},{"x":1.04,"x2":1.08,"y":-0.68,"n":80},{"x":1.08,"x2":1.12,"y":-0.68,"n":250},{"x":1.12,"x2":1.32,"y":-0.68,"n":80},{"x":1.32,"x2":1.36,"y":-0.68,"n":250},{"x":1.36,"x2":1.4,"y":-0.68,"n":80},{"x":1.4,"x2":1.44,"y":-0.68,"n":250},{"x":1.44,"x2":1.64,"y":-0.68,"n":80},{"x":1.64,"x2":1.68,"y":-0.68,"n":250},{"x":1.68,"x2":2.48,"y":-0.68,"n":80},{"x":2.48,"x2":2.56,"y":-0.68,"n":250},{"x":2.56,"x2":2.64,"y":-0.68,"n":80},{"x":2.64,"x2":2.72,"y":-0.68,"n":250},{"x":2.72,"x2":4,"y":-0.68,"n":80},
{"x":0,"x2":0.04,"y":-0.76,"n":80},{"x":0.04,"x2":0.08,"y":-0.76,"n":590},{"x":0.08,"x2":0.12,"y":-0.76,"n":1250},{"x":0.12,"x2":0.16,"y":-0.76,"n":1090},{"x":0.16,"x2":0.2,"y":-0.76,"n":920},{"x":0.2,"x2":0.24,"y":-0.76,"n":750},{"x":0.24,"x2":0.28,"y":-0.76,"n":920},{"x":0.28,"x2":0.32,"y":-0.76,"n":1420},{"x":0.32,"x2":0.36,"y":-0.76,"n":920},{"x":0.36,"x2":0.4,"y":-0.76,"n":420},{"x":0.4,"x2":0.6,"y":-0.76,"n":250},{"x":0.6,"x2":4,"y":-0.76,"n":80},
{"x":0,"x2":0.04,"y":-0.84,"n":80},{"x":0.04,"x2":0.08,"y":-0.84,"n":420},{"x":0.08,"x2":0.12,"y":-0.84,"n":920},{"x":0.12,"x2":0.16,"y":-0.84,"n":1090},{"x":0.16,"x2":0.2,"y":-0.84,"n":750},{"x":0.2,"x2":0.24,"y":-0.84,"n":590},{"x":0.24,"x2":0.28,"y":-0.84,"n":750},{"x":0.28,"x2":0.32,"y":-0.84,"n":1090},{"x":0.32,"x2":0.36,"y":-0.84,"n":750},{"x":0.36,"x2":0.4,"y":-0.84,"n":420},{"x":0.4,"x2":0.48,"y":-0.84,"n":250},{"x":0.48,"x2":4,"y":-0.84,"n":80},
{"x":0,"x2":0.04,"y":-0.92,"n":80},{"x":0.04,"x2":0.08,"y":-0.92,"n":420},{"x":0.08,"x2":0.16,"y":-0.92,"n":920},{"x":0.16,"x2":0.2,"y":-0.92,"n":590},{"x":0.2,"x2":0.24,"y":-0.92,"n":420},{"x":0.24,"x2":0.28,"y":-0.92,"n":590},{"x":0.28,"x2":0.32,"y":-0.92,"n":920},{"x":0.32,"x2":0.36,"y":-0.92,"n":750},{"x":0.36,"x2":0.44,"y":-0.92,"n":250},{"x":0.44,"x2":4,"y":-0.92,"n":80},
{"x":0,"x2":0.04,"y":-1,"n":80},{"x":0.04,"x2":0.08,"y":-1,"n":250},{"x":0.08,"x2":0.16,"y":-1,"n":750},{"x":0.16,"x2":0.2,"y":-1,"n":590},{"x":0.2,"x2":0.24,"y":-1,"n":420},{"x":0.24,"x2":0.28,"y":-1,"n":590},{"x":0.28,"x2":0.32,"y":-1,"n":750},{"x":0.32,"x2":0.36,"y":-1,"n":590},{"x":0.36,"x2":0.4,"y":-1,"n":250},{"x":0.4,"x2":4,"y":-1,"n":80},
{"x":0,"x2":0.04,"y":-1.08,"n":80},{"x":0.04,"x2":0.08,"y":-1.08,"n":250},{"x":0.08,"x2":0.16,"y":-1.08,"n":590},{"x":0.16,"x2":0.2,"y":-1.08,"n":420},{"x":0.2,"x2":0.24,"y":-1.08,"n":250},{"x":0.24,"x2":0.28,"y":-1.08,"n":420},{"x":0.28,"x2":0.32,"y":-1.08,"n":750},{"x":0.32,"x2":0.36,"y":-1.08,"n":420},{"x":0.36,"x2":0.4,"y":-1.08,"n":250},{"x":0.4,"x2":4,"y":-1.08,"n":80},
{"x":0,"x2":0.04,"y":-1.16,"n":80},{"x":0.04,"x2":0.08,"y":-1.16,"n":250},{"x":0.08,"x2":0.2,"y":-1.16,"n":420},{"x":0.2,"x2":0.24,"y":-1.16,"n":250},{"x":0.24,"x2":0.28,"y":-1.16,"n":420},{"x":0.28,"x2":0.32,"y":-1.16,"n":590},{"x":0.32,"x2":0.36,"y":-1.16,"n":420},{"x":0.36,"x2":4,"y":-1.16,"n":80},
{"x":0,"x2":0.04,"y":-1.24,"n":80},{"x":0.04,"x2":0.08,"y":-1.24,"n":250},{"x":0.08,"x2":0.2,"y":-1.24,"n":420},{"x":0.2,"x2":0.28,"y":-1.24,"n":250},{"x":0.28,"x2":0.32,"y":-1.24,"n":420},{"x":0.32,"x2":0.36,"y":-1.24,"n":250},{"x":0.36,"x2":4,"y":-1.24,"n":80},
{"x":0.04,"x2":0.08,"y":-1.32,"n":250},{"x":0.08,"x2":0.16,"y":-1.32,"n":420},{"x":0.16,"x2":0.36,"y":-1.32,"n":250},{"x":0.36,"x2":4,"y":-1.32,"n":80},
{"x":0.04,"x2":0.08,"y":-1.4,"n":80},{"x":0.08,"x2":0.2,"y":-1.4,"n":250},{"x":0.2,"x2":0.24,"y":-1.4,"n":80},{"x":0.24,"x2":0.36,"y":-1.4,"n":250},{"x":0.36,"x2":4,"y":-1.4,"n":80},
{"x":0,"x2":0.08,"y":-1.48,"n":80},{"x":0.08,"x2":0.2,"y":-1.48,"n":250},{"x":0.2,"x2":0.28,"y":-1.48,"n":80},{"x":0.28,"x2":0.32,"y":-1.48,"n":250},{"x":0.32,"x2":4,"y":-1.48,"n":80},
{"x":0.04,"x2":0.08,"y":-1.56,"n":80},{"x":0.08,"x2":0.16,"y":-1.56,"n":250},{"x":0.16,"x2":3.96,"y":-1.56,"n":80},
{"x":0.04,"x2":4,"y":-1.64,"n":80},
{"x":0.04,"x2":4,"y":-1.72,"n":80},
{"x":0.04,"x2":4,"y":-1.8,"n":80},
{"x":0,"x2":4,"y":-1.88,"n":80},
{"x":0.04,"x2":1.96,"y":-1.96,"n":80},{"x":2,"x2":2.48,"y":-1.96,"n":80},{"x":2.52,"x2":4,"y":-1.96,"n":80}
]},
"mark":{"type":"rect","height":18.74,"strokeWidth":1.2},
"encoding":{"x":{"field":"x","type":"quantitative","scale":{"domain":[0,4],"nice":false,"zero":false},"axis":{"title":"P (GeV/c)","titleFontSize":34,"titleFontWeight":"normal","titleColor":"black","titlePadding":8,"labelFontSize":33,"labelColor":"black","labelPadding":12,"values":[0,0.5,1,1.5,2,2.5,3,3.5,4],"format":".2~f","grid":false,"ticks":false,"domain":false,"labelFlush":false,"labelOverlap":false}},"x2":{"field":"x2"},
"y":{"field":"y","type":"quantitative","scale":{"domain":[-2,2],"nice":false,"zero":false},"axis":{"title":"FCAL Δ T (ns)","titleFontSize":42,"titleFontWeight":"normal","titleColor":"black","titlePadding":44,"labelFontSize":33,"labelColor":"black","labelPadding":11,"values":[-2,-1.5,-1,-0.5,0,0.5,1,1.5,2],"format":".2~f","grid":false,"ticks":false,"domain":false,"labelFlush":false,"labelOverlap":false}},
"color":{"field":"n","type":"quantitative","legend":null,"scale":{"type":"threshold","domain":[167,335,502,669,837,1004,1171,1338,1506,1673,1840,2008,2175,2342,2510,2677,2844,3011,3179],"range":["#6600ff","#3300ff","#0000ff","#0048ff","#0088ff","#00b8ff","#00ffff","#00ffc4","#00ff80","#00ff55","#00ff00","#22ff00","#66ff00","#99ff00","#ddff00","#ffee00","#ffaa00","#ff7700","#ff3300","#ff0000"]}},
"stroke":{"field":"n","type":"quantitative","legend":null,"scale":{"type":"threshold","domain":[167,335,502,669,837,1004,1171,1338,1506,1673,1840,2008,2175,2342,2510,2677,2844,3011,3179],"range":["#6600ff","#3300ff","#0000ff","#0048ff","#0088ff","#00b8ff","#00ffff","#00ffc4","#00ff80","#00ff55","#00ff00","#22ff00","#66ff00","#99ff00","#ddff00","#ffee00","#ffaa00","#ff7700","#ff3300","#ff0000"]}}}},
{"data":{"name":"xMajor"},"mark":{"type":"rule","color":"black","strokeWidth":2.5,"strokeDash":[2.5,5.5]},"encoding":{"x":{"field":"v","type":"quantitative"}}},
{"data":{"name":"yMajor"},"mark":{"type":"rule","color":"black","strokeWidth":2.5,"strokeDash":[2.5,5.5]},"encoding":{"y":{"field":"v","type":"quantitative"}}},
{"data":{"name":"xMinor"},"mark":{"type":"rule","color":"black","strokeWidth":3.5},"encoding":{"x":{"field":"v","type":"quantitative"},"y":{"datum":-2},"y2":{"datum":-1.949}}},
{"data":{"name":"xMinor"},"mark":{"type":"rule","color":"black","strokeWidth":3.5},"encoding":{"x":{"field":"v","type":"quantitative"},"y":{"datum":2},"y2":{"datum":1.949}}},
{"data":{"name":"xMajor"},"mark":{"type":"rule","color":"black","strokeWidth":3.5},"encoding":{"x":{"field":"v","type":"quantitative"},"y":{"datum":-2},"y2":{"datum":-1.889}}},
{"data":{"name":"xMajor"},"mark":{"type":"rule","color":"black","strokeWidth":3.5},"encoding":{"x":{"field":"v","type":"quantitative"},"y":{"datum":2},"y2":{"datum":1.889}}},
{"data":{"name":"yMinor"},"mark":{"type":"rule","color":"black","strokeWidth":3.5},"encoding":{"y":{"field":"v","type":"quantitative"},"x":{"datum":0},"x2":{"datum":0.064}}},
{"data":{"name":"yMinor"},"mark":{"type":"rule","color":"black","strokeWidth":3.5},"encoding":{"y":{"field":"v","type":"quantitative"},"x":{"datum":4},"x2":{"datum":3.936}}},
{"data":{"name":"yMajor"},"mark":{"type":"rule","color":"black","strokeWidth":3.5},"encoding":{"y":{"field":"v","type":"quantitative"},"x":{"datum":0},"x2":{"datum":0.125}}},
{"data":{"name":"yMajor"},"mark":{"type":"rule","color":"black","strokeWidth":3.5},"encoding":{"y":{"field":"v","type":"quantitative"},"x":{"datum":4},"x2":{"datum":3.875}}},
{"data":{"values":[{"box":"stats"}]},"mark":{"type":"rect","fill":"white","stroke":"black","strokeWidth":4},"encoding":{"x":{"datum":2.5},"x2":{"datum":4},"y":{"datum":1.108},"y2":{"datum":2}}},
{"data":{"values":[{"box":"frame"}]},"mark":{"type":"rect","fill":null,"fillOpacity":0,"stroke":"black","strokeWidth":4},"encoding":{"x":{"datum":0},"x2":{"datum":4},"y":{"datum":-2},"y2":{"datum":2}}}
]},
{"data":{"name":"stats"},"mark":{"type":"text","align":"left","baseline":"middle","fontSize":28,"font":"Liberation Serif","color":"black"},"encoding":{"x":{"datum":2.578},"y":{"field":"stat","type":"nominal","axis":null,"sort":null,"scale":{"type":"point","padding":0,"domain":["Entries","Mean x","Mean y","Std Dev x","Std Dev y"],"range":[23,189]}},"text":{"field":"stat"}}},
{"data":{"name":"stats"},"mark":{"type":"text","align":"right","baseline":"middle","fontSize":28,"font":"Liberation Serif","color":"black"},"encoding":{"x":{"datum":3.917},"y":{"field":"stat","type":"nominal","axis":null,"sort":null,"scale":{"type":"point","padding":0,"domain":["Entries","Mean x","Mean y","Std Dev x","Std Dev y"],"range":[23,189]}},"text":{"field":"value"}}}
]},
{"width":97,"height":937,"data":{"values":[{"lo":0,"hi":167.3,"n":80},{"lo":167.3,"hi":334.6,"n":250},{"lo":334.6,"hi":501.9,"n":420},{"lo":501.9,"hi":669.2,"n":590},{"lo":669.2,"hi":836.5,"n":750},{"lo":836.5,"hi":1003.8,"n":920},{"lo":1003.8,"hi":1171.1,"n":1090},{"lo":1171.1,"hi":1338.4,"n":1250},{"lo":1338.4,"hi":1505.7,"n":1420},{"lo":1505.7,"hi":1673,"n":1590},{"lo":1673,"hi":1840.3,"n":1760},{"lo":1840.3,"hi":2007.6,"n":1920},{"lo":2007.6,"hi":2174.9,"n":2090},{"lo":2174.9,"hi":2342.2,"n":2260},{"lo":2342.2,"hi":2509.5,"n":2430},{"lo":2509.5,"hi":2676.8,"n":2590},{"lo":2676.8,"hi":2844.1,"n":2760},{"lo":2844.1,"hi":3011.4,"n":2930},{"lo":3011.4,"hi":3178.7,"n":3100},{"lo":3178.7,"hi":3346,"n":3260}]},
"mark":{"type":"rect"},
"encoding":{"y":{"field":"lo","type":"quantitative","scale":{"domain":[0,3346],"nice":false,"zero":false},"axis":{"orient":"right","title":null,"values":[0,500,1000,1500,2000,2500,3000],"format":"d","tickSize":-50,"tickWidth":4,"tickColor":"black","domainWidth":4,"domainColor":"black","labelFontSize":33,"labelColor":"black","labelPadding":62,"grid":false,"labelFlush":false,"labelOverlap":false}},"y2":{"field":"hi"},
"color":{"field":"n","type":"quantitative","legend":null,"scale":{"type":"threshold","domain":[167,335,502,669,837,1004,1171,1338,1506,1673,1840,2008,2175,2342,2510,2677,2844,3011,3179],"range":["#6600ff","#3300ff","#0000ff","#0048ff","#0088ff","#00b8ff","#00ffff","#00ffc4","#00ff80","#00ff55","#00ff00","#22ff00","#66ff00","#99ff00","#ddff00","#ffee00","#ffaa00","#ff7700","#ff3300","#ff0000"]}}}}
]}
